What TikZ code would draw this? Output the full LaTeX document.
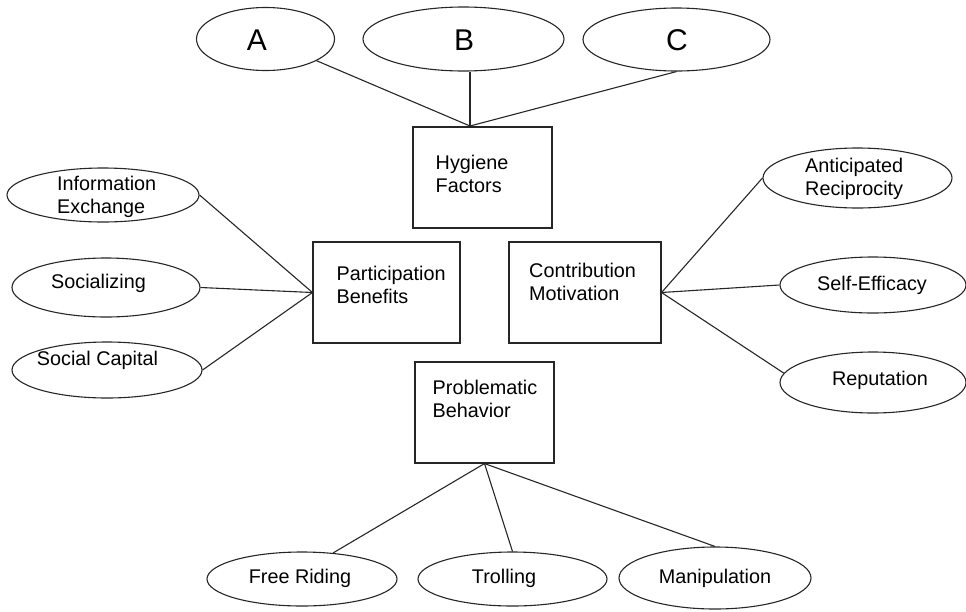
\documentclass[tikz,border=0pt]{standalone}
\usepackage{fontspec}
\setmainfont{Liberation Sans}
\usetikzlibrary{shapes.geometric}
\begin{document}
\begin{tikzpicture}[x=1pt,y=-1pt]
\tikzset{
 conn/.style={draw=black!85, line width=1.1pt},
 ell/.style={ellipse, draw=black!85, line width=1.1pt, inner sep=0pt},
 boxnode/.style={rectangle, draw=black!85, line width=1.1pt, inner sep=0pt},
 lbl/.style={font=\fontsize{19.8}{23}\selectfont, inner sep=0pt, align=left, text=black},
 big/.style={font=\fontsize{30}{34}\selectfont, inner sep=0pt, text=black}
}
\useasboundingbox (0,0) rectangle (966,611);

% boxes
\node[boxnode, minimum width=139pt, minimum height=101pt] (hf) at (482.5,177.5) {};
\node[boxnode, minimum width=147pt, minimum height=101pt] (pb) at (386.5,292.5) {};
\node[boxnode, minimum width=152pt, minimum height=101pt] (cm) at (585,292.5) {};
\node[boxnode, minimum width=139pt, minimum height=101pt] (pbh) at (484.5,412.5) {};

% ellipses
\node[ell, minimum width=138pt, minimum height=63pt] (a) at (265.5,39) {};
\node[ell, minimum width=201pt, minimum height=64pt] (b) at (463.5,39) {};
\node[ell, minimum width=187pt, minimum height=63pt] (c) at (676.5,39.5) {};
\node[ell, minimum width=192pt, minimum height=54pt] (ie) at (103,195) {};
\node[ell, minimum width=188pt, minimum height=59pt] (so) at (106,287.5) {};
\node[ell, minimum width=190pt, minimum height=56pt] (sc) at (107,370) {};
\node[ell, minimum width=189pt, minimum height=60pt] (ar) at (857.5,178) {};
\node[ell, minimum width=186pt, minimum height=56pt] (se) at (873,285) {};
\node[ell, minimum width=186pt, minimum height=61pt] (rp) at (873,382.5) {};
\node[ell, minimum width=190pt, minimum height=54pt] (fr) at (302,579) {};
\node[ell, minimum width=189pt, minimum height=54pt] (tr) at (512.5,579) {};
\node[ell, minimum width=192pt, minimum height=62pt] (mn) at (715,578) {};

% texts
\node[big] (at) at (257,40.5) {A};
\node[big] (bt) at (464,40.5) {B};
\node[big] (ct) at (677,40.5) {C};
\node[lbl, anchor=west] (hft) at (435.5,173.5) {Hygiene\\Factors};
\node[lbl, anchor=west] (pbt) at (336.5,285) {Participation\\Benefits};
\node[lbl, anchor=west] (cmt) at (529,281.5) {Contribution\\Motivation};
\node[lbl, anchor=west] (pbht) at (432.5,398.5) {Problematic\\Behavior};
\node[lbl, anchor=west] (iet) at (57,196.5) {Information\\Exchange};
\node[lbl] (sot) at (98.5,283) {Socializing};
\node[lbl] (sct) at (97.5,360) {Social Capital};
\node[lbl, anchor=west] (art) at (805,178.5) {Anticipated\\Reciprocity};
\node[lbl] (sett) at (872,285) {Self-Efficacy};
\node[lbl] (rpt) at (880,380) {Reputation};
\node[lbl] (frt) at (300,578) {Free Riding};
\node[lbl] (trt) at (504,578) {Trolling};
\node[lbl] (mnt) at (715,578) {Manipulation};

% connectors
\coordinate (hfapex) at (470,126);
\draw[conn] (a) -- (hfapex);
\draw[conn] (b.south -| hfapex) -- (hfapex);
\draw[conn] (c.south) -- (hfapex);
\draw[conn] (ie.east) -- (pb.west);
\draw[conn] (so.east) -- (pb.west);
\draw[conn] (sc.east) -- (pb.west);
\draw[conn] (cm.east) -- (ar.west);
\draw[conn] (cm.east) -- (se.west);
\draw[conn] (cm.east) -- (rp.174);
\draw[conn] (pbh.south) -- (fr.40);
\draw[conn] (pbh.south) -- (tr.north);
\draw[conn] (pbh.south) -- (mn.north);
\end{tikzpicture}
\end{document}
